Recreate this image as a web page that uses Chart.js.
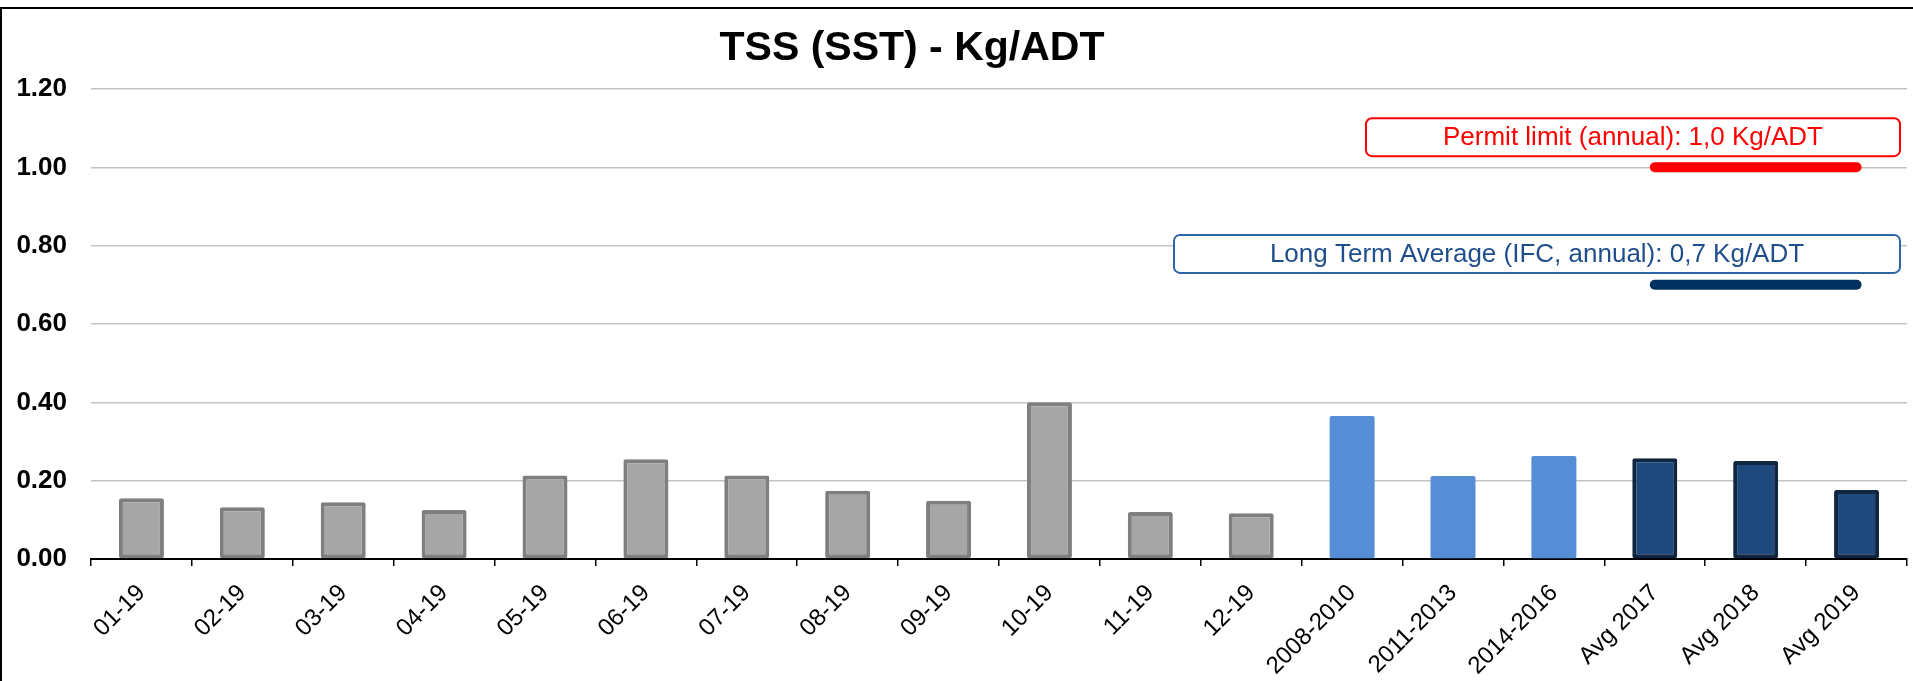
<!DOCTYPE html>
<html>
<head>
  <title>TSS (SST) - Kg/ADT</title>
  <style>
    html, body {
      margin: 0;
      padding: 0;
      background: #ffffff;
      overflow: hidden;
    }
    #frame {
      position: absolute;
      left: 0;
      top: 7px;
      width: 1913px;
      height: 681px;
      border-top: 2px solid #000;
      border-left: 2px solid #000;
      box-sizing: border-box;
    }
    #chart-box {
      position: absolute;
      left: 0;
      top: 0;
      width: 1913px;
      height: 681px;
    }
  </style>
  <script src="https://cdn.jsdelivr.net/npm/chart.js"></script>
</head>
<body>
  <div id="frame"></div>
  <div id="chart-box"><canvas id="tss"></canvas></div>

  <script>
    // categories: 12 months of 2019, three historic periods, three yearly averages
    const categories = ['01-19', '02-19', '03-19', '04-19', '05-19', '06-19', '07-19', '08-19', '09-19', '10-19', '11-19', '12-19',
      '2008-2010', '2011-2013', '2014-2016', 'Avg 2017', 'Avg 2018', 'Avg 2019'];
    const groups = ['m', 'm', 'm', 'm', 'm', 'm', 'm', 'm', 'm', 'm', 'm', 'm', 'p', 'p', 'p', 'a', 'a', 'a'];
    const tssValues = [0.155, 0.132, 0.145, 0.125, 0.213, 0.255, 0.213, 0.174, 0.149, 0.400, 0.120, 0.117,
      0.365, 0.212, 0.263, 0.257, 0.250, 0.176];

    // reference lines, shown under the last three bars only
    const permitLimit = [null, null, null, null, null, null, null, null, null, null, null, null, null, null, null, 1.0, 1.0, 1.0];
    const longTermAvg = [null, null, null, null, null, null, null, null, null, null, null, null, null, null, null, 0.7, 0.7, 0.7];

    const yTicks = [0, 0.2, 0.4, 0.6, 0.8, 1.0, 1.2];

    const fillColors = { m: '#A6A6A6', p: '#558ED5', a: '#1F497D' };
    const edgeColors = { m: '#7F7F7F', p: '#558ED5', a: '#10253F' };
    const edgeWidths = { m: 4, p: 0, a: 4 };

    const FONT = '"Liberation Sans", Arial, sans-serif';

    // title (drawn by hand so it can sit left of centre) and the two limit boxes
    const decorations = {
      id: 'decorations',
      afterDraw(chart) {
        const ctx = chart.ctx;
        const y = chart.scales.y;
        const area = chart.chartArea;
        ctx.save();
        ctx.fillStyle = '#000';
        ctx.font = 'bold 41px ' + FONT;
        ctx.textAlign = 'center';
        ctx.textBaseline = 'middle';
        ctx.fillText('TSS (SST) - Kg/ADT', 912, 49);

        const notes = [
          { text: 'Permit limit (annual): 1,0 Kg/ADT', at: 1.077, left: 1366, color: '#FF0000', edge: '#FF0000' },
          { text: 'Long Term Average (IFC, annual): 0,7 Kg/ADT', at: 0.779, left: 1174, color: '#1F4E8C', edge: '#2E64A8' }
        ];
        ctx.font = '26px ' + FONT;
        notes.forEach(function (n) {
          const cy = y.getPixelForValue(n.at);
          const right = area.right - 7;
          const h = 38;
          ctx.beginPath();
          ctx.roundRect(n.left, cy - h / 2, right - n.left, h, 6);
          ctx.fillStyle = '#ffffff';
          ctx.fill();
          ctx.lineWidth = 2;
          ctx.strokeStyle = n.edge;
          ctx.stroke();
          ctx.fillStyle = n.color;
          ctx.fillText(n.text, (n.left + right) / 2, cy + 1);
        });
        ctx.restore();
      }
    };

    document.addEventListener('DOMContentLoaded', function () {
      const ctx = document.getElementById('tss').getContext('2d');
      new Chart(ctx, {
        type: 'bar',
        data: {
          labels: categories,
          datasets: [
            {
              type: 'line',
              label: 'Permit limit',
              data: permitLimit,
              borderColor: '#FF0000',
              borderWidth: 10,
              borderCapStyle: 'round',
              pointRadius: 0,
              order: 0
            },
            {
              type: 'line',
              label: 'Long term average',
              data: longTermAvg,
              borderColor: '#00305E',
              borderWidth: 10,
              borderCapStyle: 'round',
              pointRadius: 0,
              order: 0
            },
            {
              label: 'TSS',
              data: tssValues,
              backgroundColor: groups.map(g => fillColors[g]),
              borderColor: groups.map(g => edgeColors[g]),
              borderWidth: groups.map(g => edgeWidths[g]),
              borderSkipped: false,
              borderRadius: 2,
              barPercentage: 0.446,
              categoryPercentage: 1,
              order: 1
            }
          ]
        },
        options: {
          responsive: true,
          maintainAspectRatio: false,
          animation: false,
          layout: { padding: { left: 0, right: 6, top: 89, bottom: 0 } },
          plugins: {
            legend: { display: false },
            tooltip: { enabled: false },
            title: { display: false }
          },
          scales: {
            x: {
              grid: { display: true, drawOnChartArea: false, drawTicks: true, tickLength: 7, color: '#000', lineWidth: 1.5 },
              border: { display: true, color: '#000', width: 2 },
              ticks: {
                color: '#000',
                minRotation: 45,
                maxRotation: 45,
                autoSkip: false,
                padding: 13,
                font: { family: FONT, size: 24 }
              },
              afterFit: function (s) { s.height = 122; }
            },
            y: {
              min: 0,
              max: 1.2,
              afterBuildTicks: function (s) { s.ticks = yTicks.map(v => ({ value: v })); },
              grid: { color: '#C4C4BC', lineWidth: 1.5, drawTicks: false },
              border: { display: false },
              ticks: {
                color: '#000',
                padding: 24,
                callback: v => v.toFixed(2),
                font: { family: FONT, size: 26, weight: 'bold' }
              },
              afterFit: function (s) { s.width = 91; }
            }
          }
        },
        plugins: [decorations]
      });
    });
  </script>
</body>
</html>
